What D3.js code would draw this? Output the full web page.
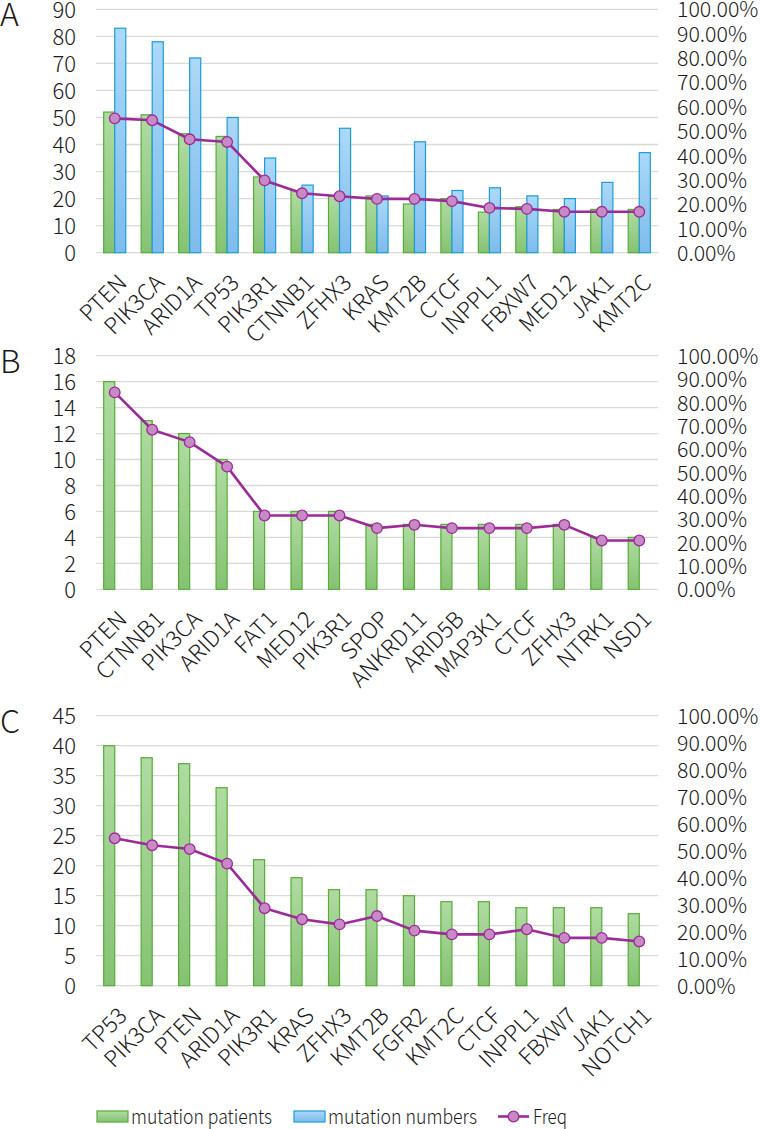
<!DOCTYPE html>
<html>
<head>
<meta charset="utf-8">
<script src="https://cdn.jsdelivr.net/npm/d3@7"></script>
<style>
  html, body { margin: 0; padding: 0; background: #fff; }
  svg { display: block; }
  text { font-family: "Noto Sans CJK SC", "Noto Sans", sans-serif; fill: #1a1a1a; }
</style>
</head>
<body>
<svg id="chart" width="760" height="1129"></svg>
<script>
// ---------- DATA ----------
const genesA = ["PTEN","PIK3CA","ARID1A","TP53","PIK3R1","CTNNB1","ZFHX3","KRAS","KMT2B","CTCF","INPPL1","FBXW7","MED12","JAK1","KMT2C"];
const patientsA = [52,51,44,43,28,23,21,21,18,20,15,17,16,16,16];
const numbersA  = [83,78,72,50,35,25,46,21,41,23,24,21,20,26,37];
const freqA     = [0.552,0.544,0.466,0.455,0.297,0.244,0.232,0.221,0.221,0.212,0.184,0.180,0.168,0.168,0.168];
const ticksA    = [0,10,20,30,40,50,60,70,80,90];

const genesB = ["PTEN","CTNNB1","PIK3CA","ARID1A","FAT1","MED12","PIK3R1","SPOP","ANKRD11","ARID5B","MAP3K1","CTCF","ZFHX3","NTRK1","NSD1"];
const patientsB = [16,13,12,10,6,6,6,5,5,5,5,5,5,4,4];
const freqB     = [0.843,0.683,0.630,0.525,0.316,0.316,0.316,0.262,0.276,0.262,0.262,0.262,0.276,0.209,0.209];
const ticksB    = [0,2,4,6,8,10,12,14,16,18];

const genesC = ["TP53","PIK3CA","PTEN","ARID1A","PIK3R1","KRAS","ZFHX3","KMT2B","FGFR2","KMT2C","CTCF","INPPL1","FBXW7","JAK1","NOTCH1"];
const patientsC = [40,38,37,33,21,18,16,16,15,14,14,13,13,13,12];
const freqC     = [0.546,0.520,0.506,0.452,0.287,0.246,0.227,0.258,0.204,0.190,0.190,0.209,0.177,0.177,0.164];
const ticksC    = [0,5,10,15,20,25,30,35,40,45];

const pctTicks = [0,0.1,0.2,0.3,0.4,0.5,0.6,0.7,0.8,0.9,1.0];
const seriesNames = ["mutation patients","mutation numbers","Freq"];
const panelLetters = ["A","B","C"];

// ---------- STYLE ----------
const COL = {
  greenTop: "#b0dba2", greenBot: "#86c273", greenStroke: "#55ad37",
  blueTop: "#acd8f8", blueBot: "#7dbcec", blueStroke: "#1b9cd9",
  line: "#9c2a98", marker: "#c78ac4", grid: "#d9d9d9"
};
const svg = d3.select("#chart");
const defs = svg.append("defs");
function grad(id, top, bot) {
  const g = defs.append("linearGradient").attr("id", id).attr("x1",0).attr("y1",0).attr("x2",0).attr("y2",1);
  g.append("stop").attr("offset","0%").attr("stop-color", top);
  g.append("stop").attr("offset","100%").attr("stop-color", bot);
}
grad("gGreen", COL.greenTop, COL.greenBot);
grad("gBlue", COL.blueTop, COL.blueBot);

const left = 96, right = 658;
const panels = [
  {genes: genesA, pat: patientsA, num: numbersA, freq: freqA, ticks: ticksA, top: 9.3, bottom: 252.7},
  {genes: genesB, pat: patientsB, num: null, freq: freqB, ticks: ticksB, top: 355.7, bottom: 589.3},
  {genes: genesC, pat: patientsC, num: null, freq: freqC, ticks: ticksC, top: 715.7, bottom: 985.7}
];

panels.forEach((p, pi) => {
  const g = svg.append("g");
  const x = d3.scaleBand().domain(p.genes).range([left, right]).paddingInner(0.41).paddingOuter(0.205);
  const x1 = d3.scaleBand().domain(["pat","num"]).range([0, x.bandwidth()]);
  const yMax = p.ticks[p.ticks.length - 1];
  const y = d3.scaleLinear().domain([0, yMax]).range([p.bottom, p.top]);
  const y2 = d3.scaleLinear().domain([0, 1]).range([p.bottom, p.top]);

  // gridlines
  g.append("g").selectAll("line").data(p.ticks).join("line")
    .attr("x1", left).attr("x2", right)
    .attr("y1", d => y(d)).attr("y2", d => y(d))
    .attr("stroke", COL.grid).attr("stroke-width", 1.3);

  // left axis
  const la = d3.axisLeft(y).tickValues(p.ticks).tickSize(0).tickPadding(0);
  const lg = g.append("g").attr("transform", `translate(${76},0)`).call(la);
  lg.select(".domain").remove();
  lg.selectAll("text").attr("font-size", 22).attr("font-weight", 300).attr("dy", "0.36em").attr("fill", "#1a1a1a");

  // right axis
  const ra = d3.axisRight(y2).tickValues(pctTicks).tickSize(0).tickPadding(0).tickFormat(d3.format(".2%"));
  const rg = g.append("g").attr("transform", `translate(${677},0)`).call(ra);
  rg.select(".domain").remove();
  rg.selectAll("text").attr("font-size", 21.3).attr("font-weight", 300).attr("dy", "0.36em").attr("fill", "#1a1a1a");

  // bars
  g.append("g").selectAll("rect").data(p.genes).join("rect")
    .attr("x", d => x(d) + x1("pat"))
    .attr("y", (d,i) => y(p.pat[i]))
    .attr("width", x1.bandwidth())
    .attr("height", (d,i) => p.bottom - y(p.pat[i]))
    .attr("fill", "url(#gGreen)").attr("stroke", COL.greenStroke).attr("stroke-width", 1.2);
  if (p.num) {
    g.append("g").selectAll("rect").data(p.genes).join("rect")
      .attr("x", d => x(d) + x1("num"))
      .attr("y", (d,i) => y(p.num[i]))
      .attr("width", x1.bandwidth())
      .attr("height", (d,i) => p.bottom - y(p.num[i]))
      .attr("fill", "url(#gBlue)").attr("stroke", COL.blueStroke).attr("stroke-width", 1.2);
  }

  // x labels
  g.append("g").selectAll("text").data(p.genes).join("text")
    .attr("transform", d => `translate(${x(d) + x.bandwidth()/2 + 2},${p.bottom + 20}) rotate(-45)`)
    .attr("text-anchor", "end").attr("dy", "0.72em")
    .attr("font-size", 22.5).attr("font-weight", 300)
    .text(d => d);

  // line
  const cx = d => x(d) + x.bandwidth()/2;
  const line = d3.line().x(d => cx(d)).y((d,i) => y2(p.freq[i]));
  g.append("path").datum(p.genes).attr("d", line)
    .attr("fill", "none").attr("stroke", COL.line).attr("stroke-width", 2.6).attr("stroke-linejoin", "round");
  g.append("g").selectAll("circle").data(p.genes).join("circle")
    .attr("cx", cx).attr("cy", (d,i) => y2(p.freq[i])).attr("r", 5.3)
    .attr("fill", COL.marker).attr("stroke", COL.line).attr("stroke-width", 1.3);

  // panel letter
  svg.append("text").attr("x", 0).attr("y", p.top + 17)
    .attr("font-size", 32).attr("font-weight", 300).text(panelLetters[pi]);
});

// legend
const lgd = svg.append("g");
const ly = 1116.5;
const legendItems = [
  {kind: "bar", fill: "url(#gGreen)", stroke: COL.greenStroke, sx: 97, tx: 131, tw: 141},
  {kind: "bar", fill: "url(#gBlue)", stroke: COL.blueStroke, sx: 294, tx: 328, tw: 149},
  {kind: "line", sx: 498, tx: 533, tw: 34}
];
legendItems.forEach((it, i) => {
  if (it.kind === "bar") {
    lgd.append("rect").attr("x", it.sx).attr("y", ly - 5.5).attr("width", 31).attr("height", 11)
      .attr("fill", it.fill).attr("stroke", it.stroke).attr("stroke-width", 1.2);
  } else {
    lgd.append("line").attr("x1", it.sx).attr("x2", it.sx + 31).attr("y1", ly).attr("y2", ly)
      .attr("stroke", COL.line).attr("stroke-width", 2.6);
    lgd.append("circle").attr("cx", it.sx + 15.5).attr("cy", ly).attr("r", 5.3)
      .attr("fill", COL.marker).attr("stroke", COL.line).attr("stroke-width", 1.3);
  }
  const t = lgd.append("text").attr("x", it.tx).attr("y", ly + 7)
    .attr("font-size", 20).attr("font-weight", 300).text(seriesNames[i]);
  const w = t.node().getComputedTextLength();
  if (w > it.tw) t.attr("textLength", it.tw).attr("lengthAdjust", "spacingAndGlyphs");
});
</script>
</body>
</html>
